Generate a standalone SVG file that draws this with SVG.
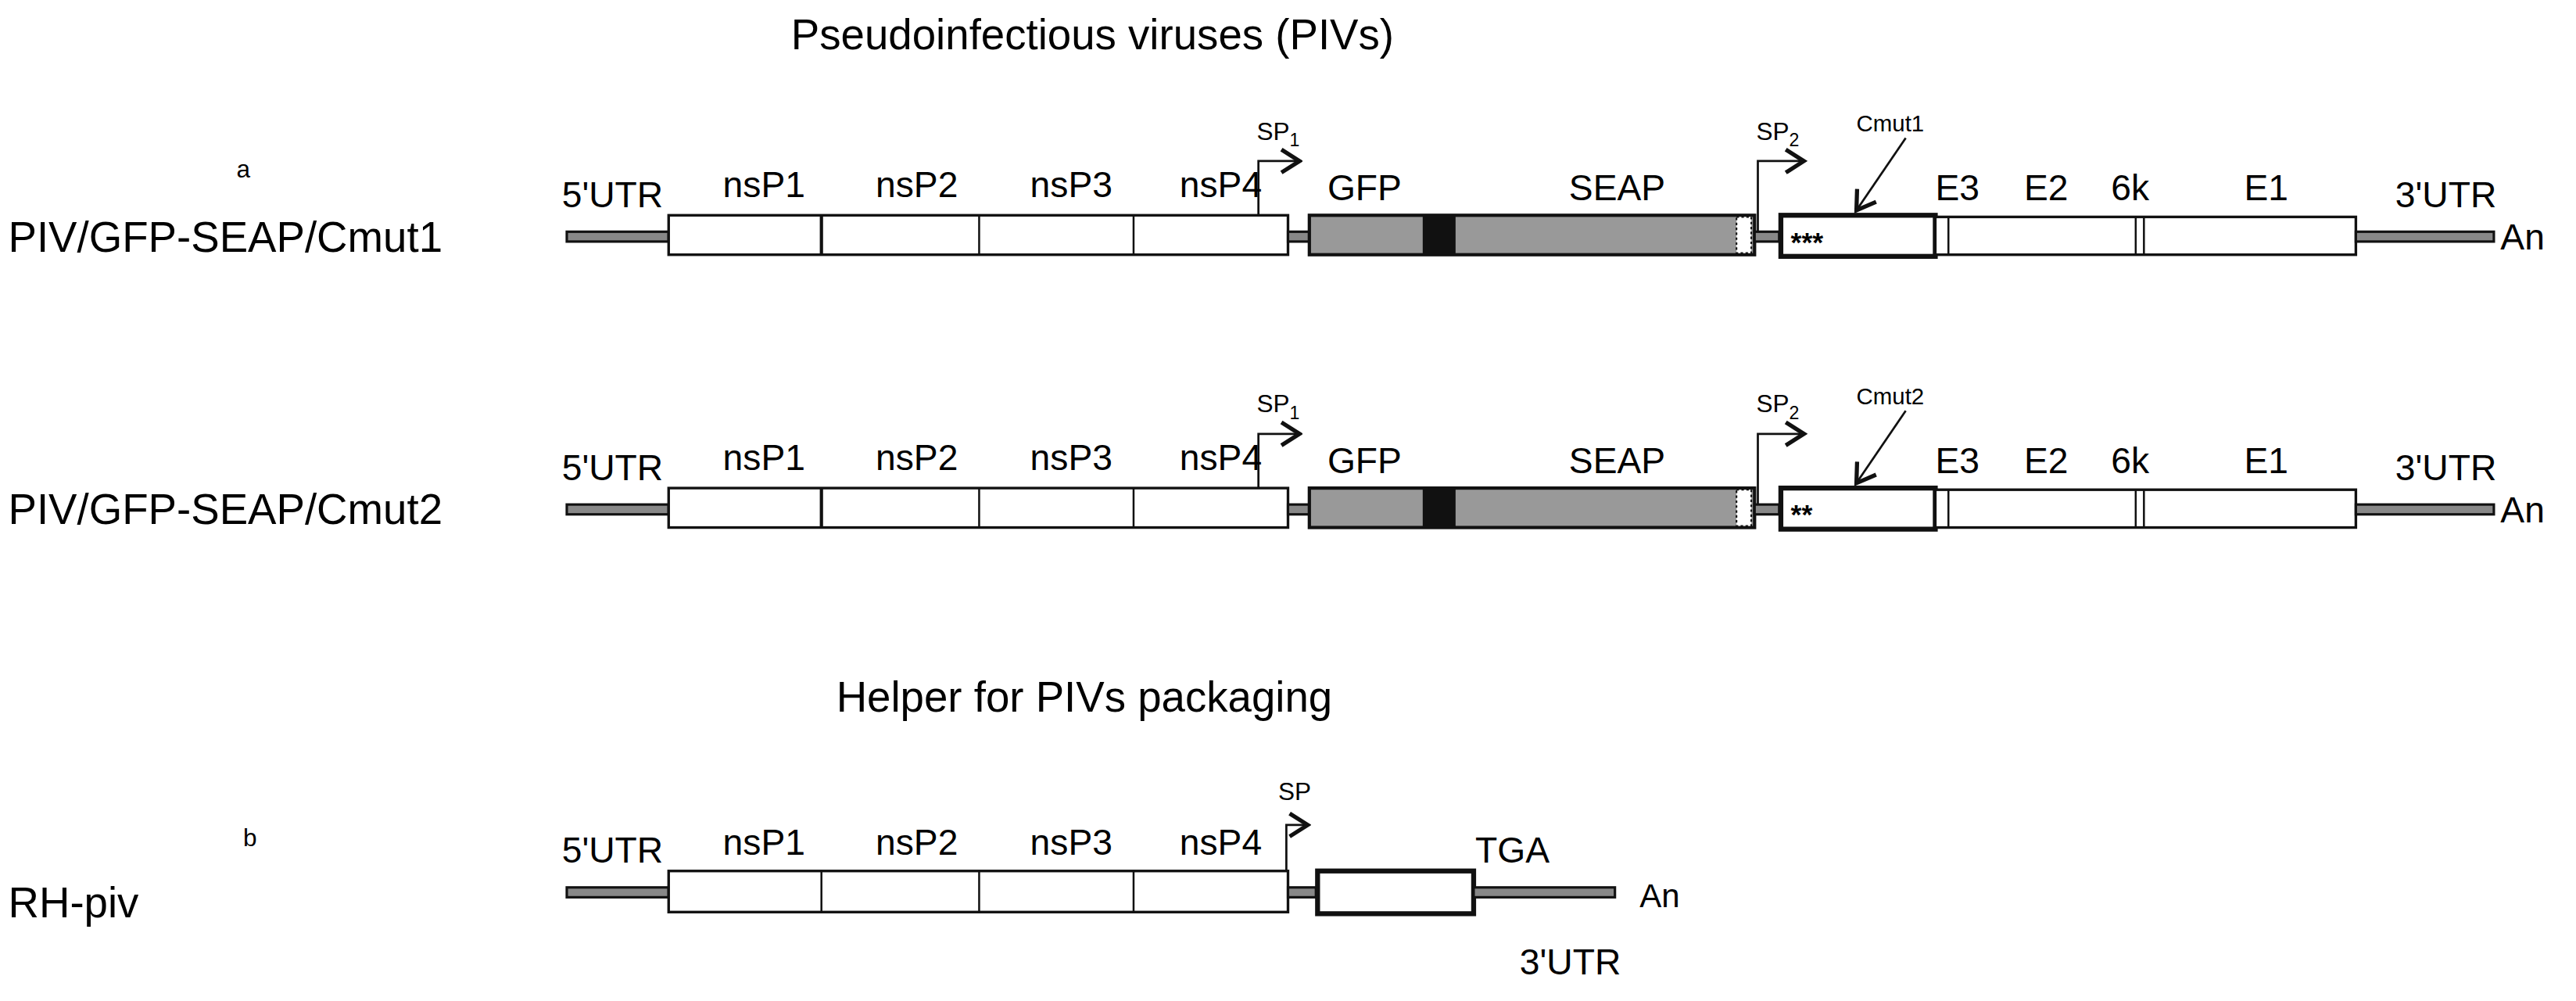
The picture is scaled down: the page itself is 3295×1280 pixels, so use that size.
<svg xmlns="http://www.w3.org/2000/svg" width="3295" height="1280" viewBox="0 0 3295 1280">
<defs>
<style>
text{font-family:"Liberation Sans",Arial,sans-serif;fill:#000}
.t{font-size:22px}
.L{font-size:26px}
.s{font-size:15px}
.ln{fill:#888;stroke:#111;stroke-width:1.5}
.bx{fill:#fff;stroke:#111;stroke-width:1.6}
.tk{fill:#fff;stroke:#111;stroke-width:3}
.gr{fill:#999;stroke:#111;stroke-width:2}
.pr{fill:none;stroke:#111;stroke-width:1.3}
</style>
<marker id="ah" markerWidth="14" markerHeight="16" refX="12" refY="8" orient="auto" markerUnits="userSpaceOnUse"><path d="M1,1 L12,8 L1,15" fill="none" stroke="#111" stroke-width="2.5"/></marker>
<g id="row">
<rect class="ln" x="345" y="141" width="62" height="6"/>
<rect class="bx" x="407" y="131" width="377" height="24"/>
<line x1="500" y1="131" x2="500" y2="155" stroke="#111" stroke-width="2"/>
<line x1="596" y1="131" x2="596" y2="155" stroke="#111" stroke-width="1.2"/>
<line x1="690" y1="131" x2="690" y2="155" stroke="#111" stroke-width="1.2"/>
<rect class="ln" x="784" y="141" width="13" height="6"/>
<rect class="gr" x="797" y="131" width="271" height="24"/>
<rect x="866" y="131" width="20" height="24" fill="#111"/>
<rect x="1057" y="132" width="9" height="22" fill="#fff" stroke="#111" stroke-width="1" stroke-dasharray="1.5,1.5"/>
<rect class="ln" x="1068" y="141" width="15" height="6"/>
<rect class="tk" x="1084" y="131" width="94" height="25"/>
<rect class="bx" x="1178" y="132" width="256" height="23"/>
<line x1="1186" y1="132" x2="1186" y2="155" stroke="#111" stroke-width="1.2"/>
<line x1="1300" y1="132" x2="1300" y2="155" stroke="#111" stroke-width="1.2"/>
<line x1="1305" y1="132" x2="1305" y2="155" stroke="#111" stroke-width="1.2"/>
<rect class="ln" x="1434" y="141" width="84" height="6"/>
<path class="pr" d="M766,131 V98 H791" marker-end="url(#ah)"/>
<path class="pr" d="M1070,141 V98 H1098" marker-end="url(#ah)"/>
<path class="pr" d="M1160,84 L1130,128" marker-end="url(#ah)"/>
<text class="t" x="342" y="126">5'UTR</text>
<text class="t" x="440" y="120">nsP1</text>
<text class="t" x="533" y="120">nsP2</text>
<text class="t" x="627" y="120">nsP3</text>
<text class="t" x="718" y="120">nsP4</text>
<text class="t" x="808" y="122">GFP</text>
<text class="t" x="955" y="122">SEAP</text>
<text class="t" x="1178" y="122">E3</text>
<text class="t" x="1232" y="122">E2</text>
<text class="t" x="1285" y="122">6k</text>
<text class="t" x="1366" y="122">E1</text>
<text class="t" x="1458" y="126">3'UTR</text>
<text class="t" x="1522" y="152">An</text>
<text class="s" x="765" y="85">SP<tspan font-size="11" dy="4">1</tspan></text>
<text class="s" x="1069" y="85">SP<tspan font-size="11" dy="4">2</tspan></text>
</g>
</defs>
<g transform="scale(2.1014)">
<text class="L" x="665" y="30" text-anchor="middle">Pseudoinfectious viruses (PIVs)</text>
<g id="piv1">
<use href="#row"/>
<text class="s" x="144" y="108">a</text>
<text class="L" x="5" y="153">PIV/GFP-SEAP/Cmut1</text>
<text x="1130" y="80" font-size="14">Cmut1</text>
<text x="1090" y="153" font-size="17" font-weight="bold">***</text>
</g>
<g id="piv2" transform="translate(0,166)">
<use href="#row"/>
<text class="L" x="5" y="153">PIV/GFP-SEAP/Cmut2</text>
<text x="1130" y="80" font-size="14">Cmut2</text>
<text x="1090" y="153" font-size="17" font-weight="bold">**</text>
</g>
<text class="L" x="660" y="433" text-anchor="middle">Helper for PIVs packaging</text>
<g id="helper">
<text class="s" x="148" y="515">b</text>
<text class="L" x="5" y="558">RH-piv</text>
<rect class="ln" x="345" y="540" width="62" height="6"/>
<rect class="bx" x="407" y="530" width="377" height="25" stroke-width="2.5"/>
<line x1="500" y1="530" x2="500" y2="555" stroke="#111" stroke-width="1.2"/>
<line x1="596" y1="530" x2="596" y2="555" stroke="#111" stroke-width="1.2"/>
<line x1="690" y1="530" x2="690" y2="555" stroke="#111" stroke-width="1.2"/>
<rect class="ln" x="784" y="540" width="17" height="6"/>
<rect class="tk" x="802" y="530" width="95" height="26"/>
<rect class="ln" x="897" y="540" width="86" height="6"/>
<path class="pr" d="M783,530 V502 H796" marker-end="url(#ah)"/>
<text class="s" x="778" y="487">SP</text>
<text class="t" x="342" y="525">5'UTR</text>
<text class="t" x="440" y="520">nsP1</text>
<text class="t" x="533" y="520">nsP2</text>
<text class="t" x="627" y="520">nsP3</text>
<text class="t" x="718" y="520">nsP4</text>
<text class="t" x="898" y="525">TGA</text>
<text x="998" y="552" font-size="20" font-family="Liberation Serif,serif">An</text>
<text class="t" x="925" y="593">3'UTR</text>
</g>
</g>
</svg>
